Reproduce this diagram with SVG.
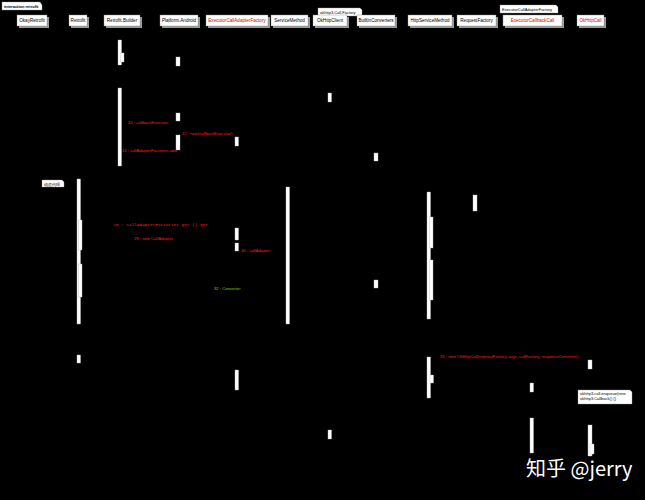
<svg xmlns="http://www.w3.org/2000/svg" width="645" height="500" viewBox="0 0 645 500">
<style>
.bg{fill:#000}
.head{fill:#fff;stroke:#888;stroke-width:0.4}
.shadow{fill:#9a9a9a}
.ht{font-family:"Liberation Sans",Arial,sans-serif;font-size:4.6px;fill:#000;text-anchor:middle}
.htr{font-family:"Liberation Sans",Arial,sans-serif;font-size:4.6px;fill:#e00000;text-anchor:middle}
.act{fill:#fff;stroke:#bbb;stroke-width:0.4}
.lbl{font-family:"Liberation Sans",Arial,sans-serif;font-size:4.2px;fill:#ff1a1a}
.lblg{font-family:"Liberation Sans",Arial,sans-serif;font-size:4.2px;fill:#7fd000}
.mono{font-family:"Liberation Mono",monospace;font-size:4.4px;fill:#ff1a1a}
.note{fill:#fff;stroke:#999;stroke-width:0.4}
.nt{font-family:"Liberation Sans",Arial,sans-serif;font-size:4px;fill:#000}
.life{stroke:#000;stroke-width:0.5;stroke-dasharray:2 2;fill:none}
.msg{stroke:#000;stroke-width:0.5;fill:none}
</style>
<rect class="bg" x="0" y="0" width="645" height="500"/>

<g id="frame">
<path class="note" d="M2,2 H40 L42,5 V10 H2 Z"/>
<text class="nt" x="4" y="8" font-weight="bold">interaction retrofit</text>
</g>

<g id="connectors">
<line class="life" x1="32" y1="27" x2="32" y2="500"/>
<line class="life" x1="78" y1="27" x2="78" y2="500"/>
<line class="life" x1="121" y1="27" x2="121" y2="500"/>
<line class="life" x1="179" y1="27" x2="179" y2="500"/>
<line class="life" x1="237" y1="27" x2="237" y2="500"/>
<line class="life" x1="288" y1="27" x2="288" y2="500"/>
<line class="life" x1="330" y1="27" x2="330" y2="500"/>
<line class="life" x1="376" y1="27" x2="376" y2="500"/>
<line class="life" x1="430" y1="27" x2="430" y2="500"/>
<line class="life" x1="476" y1="27" x2="476" y2="500"/>
<line class="life" x1="532" y1="27" x2="532" y2="500"/>
<line class="life" x1="590" y1="27" x2="590" y2="500"/>
<line class="msg" x1="122" y1="126" x2="176" y2="126"/>
<line class="msg" x1="180" y1="137" x2="235" y2="137"/>
<line class="msg" x1="122" y1="153" x2="176" y2="153"/>
<line class="msg" x1="82" y1="228" x2="235" y2="228"/>
<line class="msg" x1="82" y1="242" x2="235" y2="242"/>
<line class="msg" x1="238" y1="253" x2="286" y2="253"/>
<line class="msg" x1="286" y1="291" x2="374" y2="291"/>
<line class="msg" x1="431" y1="359" x2="588" y2="359"/>
</g>

<g id="OkayRetrofit">
<rect class="shadow" x="19" y="17" width="30" height="11"/>
<rect class="head" x="17" y="15" width="30" height="11"/>
<text class="ht" x="32" y="22">OkayRetrofit</text>
</g>
<g id="Retrofit">
<rect class="shadow" x="71" y="17" width="18" height="11"/>
<rect class="head" x="69" y="15" width="18" height="11"/>
<text class="ht" x="78" y="22">Retrofit</text>
<rect class="act" x="77" y="179" width="3.5" height="145"/>
<rect class="act" x="78.5" y="220" width="3.5" height="30"/>
<rect class="act" x="78.5" y="264" width="3.5" height="33"/>
<rect class="act" x="77" y="355" width="3.5" height="8"/>
</g>
<g id="RetrofitBuilder">
<rect class="shadow" x="106" y="17" width="36" height="11"/>
<rect class="head" x="104" y="15" width="36" height="11"/>
<text class="ht" x="122" y="22">Retrofit.Builder</text>
<rect class="act" x="118" y="40" width="3.5" height="25"/>
<rect class="act" x="120.5" y="53" width="3.5" height="9"/>
<rect class="act" x="118" y="88" width="3.5" height="78"/>
</g>
<g id="PlatformAndroid">
<rect class="shadow" x="162" y="17" width="38" height="11"/>
<rect class="head" x="160" y="15" width="38" height="11"/>
<text class="ht" x="179" y="22">Platform.Android</text>
<rect class="act" x="176" y="57" width="4" height="9"/>
<rect class="act" x="176" y="113" width="4" height="8"/>
<rect class="act" x="176" y="135" width="4" height="15"/>
</g>
<g id="ExecutorCallAdapterFactory">
<rect class="shadow" x="208" y="17" width="62" height="11"/>
<rect class="head" x="206" y="15" width="62" height="11"/>
<text class="htr" x="237" y="22">ExecutorCallAdapterFactory</text>
<rect class="act" x="235" y="137" width="3.5" height="9"/>
<rect class="act" x="235" y="228" width="3.5" height="12"/>
<rect class="act" x="235" y="243" width="3.5" height="8"/>
<rect class="act" x="235" y="370" width="3.5" height="20"/>
</g>
<g id="ServiceMethod">
<rect class="shadow" x="273" y="17" width="37" height="11"/>
<rect class="head" x="271" y="15" width="37" height="11"/>
<text class="ht" x="289.5" y="22">ServiceMethod</text>
<rect class="act" x="286" y="187" width="3.5" height="137"/>
</g>
<g id="OkHttpClient">
<path class="note" d="M318,8 H360 L362,10 V16 H318 Z"/>
<text class="nt" x="320" y="14">okhttp3.Call.Factory</text>
<rect class="shadow" x="315" y="17" width="34" height="11"/>
<rect class="head" x="313" y="15" width="34" height="11"/>
<text class="ht" x="330" y="22">OkHttpClient</text>
<rect class="act" x="328" y="93" width="3.5" height="9"/>
<rect class="act" x="328" y="430" width="3.5" height="9"/>
</g>
<g id="BuiltInConverters">
<rect class="shadow" x="359" y="17" width="38" height="11"/>
<rect class="head" x="357" y="15" width="38" height="11"/>
<text class="ht" x="376" y="22">BuiltInConverters</text>
<rect class="act" x="374" y="153" width="4" height="8"/>
<rect class="act" x="374" y="280" width="4" height="8"/>
</g>
<g id="HttpServiceMethod">
<rect class="shadow" x="410" y="17" width="44" height="11"/>
<rect class="head" x="408" y="15" width="44" height="11"/>
<text class="ht" x="430" y="22">HttpServiceMethod</text>
<rect class="act" x="427" y="192" width="3.5" height="127"/>
<rect class="act" x="429.5" y="217" width="3.5" height="31"/>
<rect class="act" x="429.5" y="260" width="3.5" height="40"/>
<rect class="act" x="427" y="357" width="3.5" height="41"/>
<rect class="act" x="430" y="375" width="3.5" height="8"/>
</g>
<g id="RequestFactory">
<rect class="shadow" x="459" y="17" width="39" height="11"/>
<rect class="head" x="457" y="15" width="39" height="11"/>
<text class="ht" x="476.5" y="22">RequestFactory</text>
<rect class="act" x="473" y="195" width="4" height="16"/>
</g>
<g id="ExecutorCallbackCall">
<path class="note" d="M500,5 H556 L558,7 V13 H500 Z"/>
<text class="nt" x="502" y="11">ExecutorCallAdapterFactory</text>
<rect class="shadow" x="505" y="17" width="59" height="11"/>
<rect class="head" x="503" y="15" width="59" height="11"/>
<text class="htr" x="532.5" y="22">ExecutorCallbackCall</text>
<rect class="act" x="530" y="383" width="3.5" height="9"/>
<rect class="act" x="530" y="418" width="3.5" height="35"/>
</g>
<g id="OkHttpCall">
<rect class="shadow" x="579" y="17" width="27" height="11"/>
<rect class="head" x="577" y="15" width="27" height="11"/>
<text class="htr" x="590.5" y="22">OkHttpCall</text>
<rect class="act" x="588" y="360" width="4" height="9"/>
<rect class="act" x="588" y="425" width="4" height="31"/>
<rect class="act" x="590" y="444" width="4" height="10"/>
</g>

<g id="notes">
<path class="note" d="M42,180 H62 L64,182 V187 H42 Z"/>
<text class="nt" x="43.5" y="185.5">动态代理</text>
<path class="note" d="M578,390 H630 L632,392 V404 H578 Z"/>
<text class="nt" x="580" y="395">okhttp3.call.enqueue(new</text>
<text class="nt" x="580" y="400">okhttp3.Callback() {}</text>
</g>

<g id="labels">
<text class="lbl" x="128" y="124">10 : callbackExecutor</text>
<text class="lbl" x="182" y="135">12 : new(callbackExecutor)</text>
<text class="lbl" x="122" y="152">14 : callAdapterFactories.add</text>
<text class="mono" x="113" y="226">25 : callAdapterFactories.get ().get</text>
<text class="lbl" x="134" y="240" font-size="5">29 : new CallAdapter</text>
<text class="lbl" x="241" y="252">30 : callAdapter</text>
<text class="lblg" x="214" y="290">32 : Converter</text>
<text class="lbl" x="440" y="357.5">35 : new OkHttpCall(requestFactory, args, callFactory, responseConverter)</text>
</g>

<g id="watermark">
<text x="526" y="476" font-family="'Noto Sans CJK SC','Noto Sans',sans-serif" font-size="20" fill="#fff">知乎 @jerry</text>
</g>
</svg>
